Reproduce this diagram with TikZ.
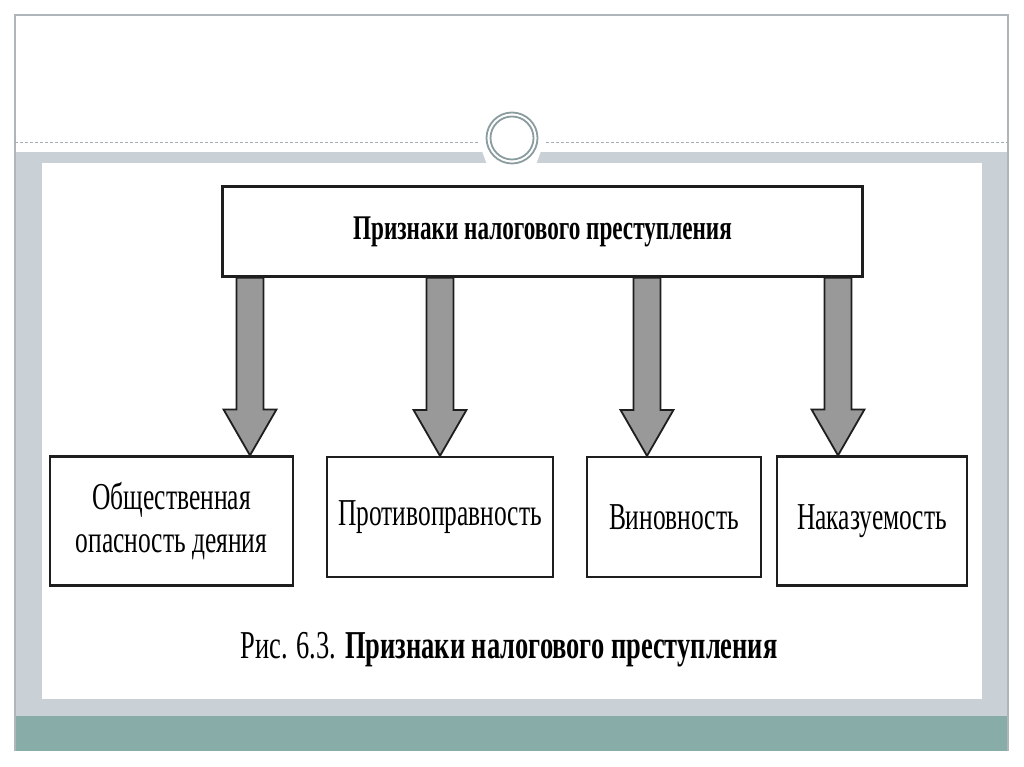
\documentclass[tikz,border=0pt]{standalone}
\usepackage{fontspec}
\setmainfont{Liberation Serif}[FakeStretch=0.67]
\usetikzlibrary{calc}
\definecolor{bandgray}{HTML}{C9D1D6}
\definecolor{teal}{HTML}{88ACA8}
\definecolor{ringgray}{HTML}{8A9CA0}
\definecolor{framegray}{HTML}{AEB6BA}
\definecolor{arrowgray}{HTML}{999999}
\definecolor{boxline}{HTML}{1E1E1E}
\tikzset{
  box/.style={draw=boxline, line width=2.2pt, fill=white, inner sep=0pt, align=center},
  fat/.style={draw=boxline, line width=1.8pt, fill=arrowgray, line join=miter},
  boxtext/.style={font=\fontsize{38}{43}\selectfont},
}
\begin{document}
\begin{tikzpicture}[x=1pt,y=-1pt]
\useasboundingbox (0,0) rectangle (1024,767);
\fill[white] (0,0) rectangle (1024,767);
% background frame
\fill[bandgray] (15,152) rectangle (1008,716);
\fill[white] (482,151) -- (541,151) -- (536,164.5) -- (487,164.5) -- cycle;
\fill[white] (42,163) rectangle (982,699);
\fill[teal] (15,716) rectangle (1008,751);
\draw[framegray, line width=1.3pt] (15,751) -- (15,15) -- (1008,15) -- (1008,751);
\draw[ringgray!80, line width=0.8pt, dash pattern=on 3pt off 2pt] (15,142) -- (478,142);
\draw[ringgray!80, line width=0.8pt, dash pattern=on 3pt off 2pt] (546,142) -- (1008,142);
\fill[white] (512,138) circle (30);
\draw[ringgray, line width=1.8pt] (512,138) circle (25.5);
\draw[ringgray, line width=1.8pt] (512,138) circle (21.5);
% nodes
\node[box, minimum width=640pt, minimum height=90pt, font=\fontsize{34.6}{40}\selectfont\bfseries] (top) at (542.5,231.5) {Признаки налогового преступления};
\node[box, boxtext, minimum width=243pt, minimum height=129pt] (b1) at (171.5,521) {Общественная\\опасность деяния};
\node[box, boxtext, minimum width=226pt, minimum height=120pt] (b2) at (440,517) {Противоправность};
\node[box, boxtext, minimum width=174pt, minimum height=120pt] (b3) at (674,517) {Виновность};
\node[box, boxtext, minimum width=190pt, minimum height=129pt] (b4) at (872,521) {Наказуемость};
\node[font=\fontsize{39.5}{44}\selectfont] (cap) at (509,650) {Рис. 6.3. \textbf{Признаки налогового преступления}};
% arrows
\foreach \x/\b [count=\i] in {250/b1,440/b2,647/b3,838/b4} {
  \coordinate (a\i) at (\x,0);
  \draw[fat] let \p1=(top.south -| a\i), \p2=(a\i |- \b.north) in
    (\x1-13.5pt,\y1) -- (\x1-13.5pt,\y2+46pt) -- (\x1-26.5pt,\y2+46pt) -- (\x2,\y2)
    -- (\x1+26.5pt,\y2+46pt) -- (\x1+13.5pt,\y2+46pt) -- (\x1+13.5pt,\y1) -- cycle;
}
\end{tikzpicture}
\end{document}
